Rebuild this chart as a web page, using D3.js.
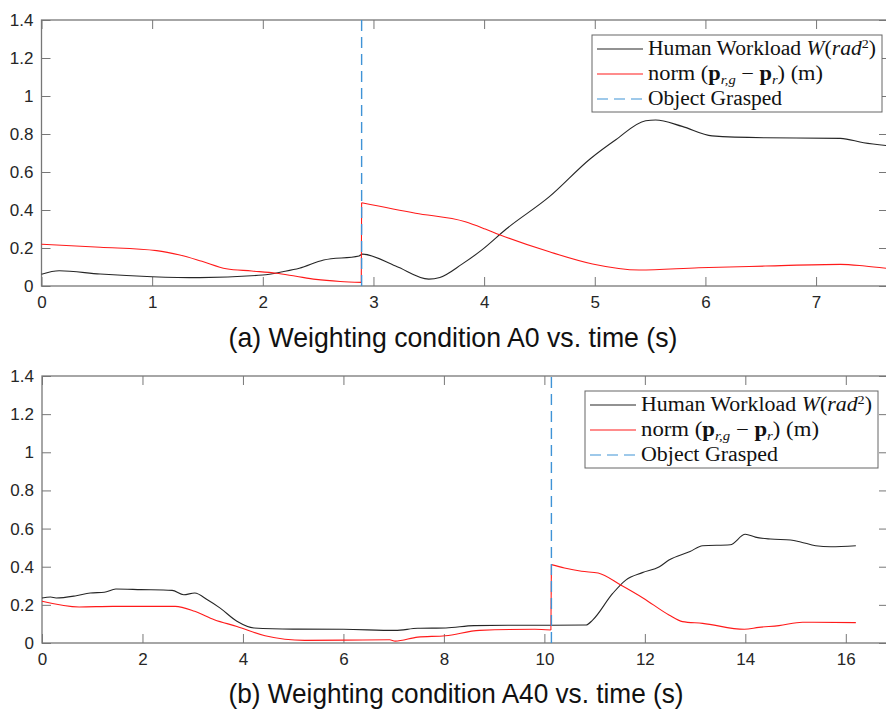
<!DOCTYPE html>
<html>
<head>
<meta charset="utf-8">
<script src="https://cdn.jsdelivr.net/npm/d3@7"></script>
<style>
body{margin:0;background:#fff;}
.tick text{font-family:"Liberation Sans",Arial,sans-serif;font-size:17px;fill:#262626;}
.tick line{stroke:#777;stroke-width:1;}
</style>
</head>
<body>
<script>
// ---- panel (a): condition A0 ----
var a0WorkT = [0, 0.16, 0.53, 1.0, 1.43, 2.0, 2.18, 2.33, 2.55, 2.87, 2.9, 3.2, 3.5, 3.6, 3.8, 3.98, 4.2, 4.59, 4.96, 5.19, 5.46, 5.55, 5.79, 6.06, 6.54, 7.22, 7.43, 7.65];
var a0WorkV = [0.062, 0.08, 0.063, 0.049, 0.044, 0.058, 0.075, 0.093, 0.137, 0.158, 0.168, 0.105, 0.036, 0.045, 0.115, 0.19, 0.30, 0.47, 0.67, 0.77, 0.87, 0.874, 0.84, 0.79, 0.78, 0.777, 0.754, 0.738];
var a0NormPreT = [0, 0.53, 1.04, 1.25, 1.45, 1.67, 1.9, 2.12, 2.3, 2.48, 2.7, 2.89];
var a0NormPreV = [0.22, 0.204, 0.186, 0.163, 0.13, 0.091, 0.079, 0.067, 0.051, 0.035, 0.024, 0.019];
var a0NormPostT = [2.893, 3.38, 3.83, 4.01, 4.14, 4.59, 4.98, 5.4, 5.94, 6.54, 7.22, 7.44, 7.65];
var a0NormPostV = [0.438, 0.383, 0.338, 0.30, 0.27, 0.18, 0.116, 0.084, 0.096, 0.105, 0.114, 0.105, 0.092];
var a0Grasp = 2.893;
var a0XTicks = [0, 1, 2, 3, 4, 5, 6, 7];

// ---- panel (b): condition A40 ----
var a40WorkT = [0, 0.17, 0.28, 0.68, 0.96, 1.24, 1.47, 1.97, 2.59, 2.82, 3.04, 3.3, 3.54, 3.88, 4.22, 5.0, 6.0, 7.03, 7.48, 8.04, 8.6, 9.27, 10.13, 10.83, 10.96, 11.36, 11.62, 11.95, 12.29, 12.48, 12.9, 13.15, 13.7, 14.0, 14.2, 14.5, 14.9, 15.1, 15.4, 15.7, 16.2];
var a40WorkV = [0.236, 0.241, 0.236, 0.248, 0.262, 0.266, 0.283, 0.28, 0.276, 0.253, 0.262, 0.225, 0.184, 0.114, 0.079, 0.073, 0.072, 0.066, 0.077, 0.079, 0.091, 0.093, 0.093, 0.094, 0.12, 0.26, 0.33, 0.369, 0.40, 0.435, 0.48, 0.51, 0.515, 0.57, 0.555, 0.545, 0.54, 0.53, 0.51, 0.505, 0.51];
var a40NormPreT = [0, 0.74, 1.41, 2.65, 3.04, 3.43, 3.88, 4.44, 5.23, 6.0, 6.92, 7.03, 7.48, 8.03, 8.71, 9.81, 10.13];
var a40NormPreV = [0.219, 0.189, 0.192, 0.192, 0.166, 0.122, 0.087, 0.038, 0.014, 0.015, 0.017, 0.01, 0.031, 0.038, 0.066, 0.072, 0.068];
var a40NormPostT = [10.14, 10.4, 10.74, 11.07, 11.52, 11.97, 12.48, 12.75, 13.15, 13.98, 14.27, 14.67, 15.14, 16.2];
var a40NormPostV = [0.411, 0.393, 0.376, 0.367, 0.304, 0.235, 0.147, 0.112, 0.103, 0.072, 0.082, 0.091, 0.109, 0.107];
var a40Grasp = 10.14;
var a40XTicks = [0, 2, 4, 6, 8, 10, 12, 14, 16];

var yTicks = [0, 0.2, 0.4, 0.6, 0.8, 1, 1.2, 1.4];
var captions = ["(a) Weighting condition A0 vs. time (s)", "(b) Weighting condition A40 vs. time (s)"];

var svg = d3.select("body").append("svg")
  .attr("width", 886)
  .attr("height", 709);

function zip(ts, vs) { return ts.map(function(t, i) { return [t, vs[i]]; }); }

var graspBlue = "#3f93d6";

function drawPanel(p, idx) {
  var x = d3.scaleLinear().domain([0, p.xMax]).range([p.left, p.right]);
  var y = d3.scaleLinear().domain([0, 1.4]).range([p.bottom, p.top]);
  var g = svg.append("g");

  // axes, ticks pointing inward
  g.append("g").attr("transform", `translate(0,${p.bottom})`)
    .call(d3.axisBottom(x).tickValues(p.xTicks).tickSizeInner(-9).tickSizeOuter(0).tickPadding(10).tickFormat(d3.format("d")));
  g.append("g").attr("transform", `translate(0,${p.top})`)
    .call(d3.axisTop(x).tickValues(p.xTicks).tickSizeInner(-9).tickSizeOuter(0).tickFormat(""));
  g.append("g").attr("transform", `translate(${p.left},0)`)
    .call(d3.axisLeft(y).tickValues(yTicks).tickSizeInner(-9).tickSizeOuter(0).tickPadding(8)
      .tickFormat(function(d) { return String(+d.toFixed(1)); }));
  g.append("g").attr("transform", `translate(${p.right},0)`)
    .call(d3.axisRight(y).tickValues(yTicks).tickSizeInner(-9).tickSizeOuter(0).tickFormat(""));
  g.selectAll(".domain").remove();

  g.append("rect")
    .attr("x", p.left).attr("y", p.top)
    .attr("width", p.right - p.left).attr("height", p.bottom - p.top)
    .attr("fill", "none").attr("stroke", "#777").attr("stroke-width", 1.3);

  var line = d3.line().x(function(d) { return x(d[0]); }).y(function(d) { return y(d[1]); })
    .curve(d3.curveMonotoneX);
  var straight = d3.line().x(function(d) { return x(d[0]); }).y(function(d) { return y(d[1]); });

  var pre = zip(p.preT, p.preV), post = zip(p.postT, p.postV);
  g.append("path").attr("d", line(zip(p.workT, p.workV)))
    .attr("fill", "none").attr("stroke", "#262626").attr("stroke-width", 1.1);
  g.append("path").attr("d", line(pre))
    .attr("fill", "none").attr("stroke", "#ff1a1a").attr("stroke-width", 1.1);
  g.append("path").attr("d", straight([pre[pre.length - 1], post[0]]))
    .attr("fill", "none").attr("stroke", "#ff1a1a").attr("stroke-width", 1.1);
  g.append("path").attr("d", line(post))
    .attr("fill", "none").attr("stroke", "#ff1a1a").attr("stroke-width", 1.1);

  // object grasped marker
  g.append("path").attr("d", straight([[p.grasp, 0], [p.grasp, 1.4]]))
    .attr("fill", "none").attr("stroke", graspBlue).attr("stroke-width", 1.4)
    .attr("stroke-dasharray", "11,6");

  // legend
  var lg = g.append("g");
  lg.append("rect").attr("x", p.lx).attr("y", p.ly).attr("width", p.lw).attr("height", p.lh)
    .attr("fill", "#fff").attr("stroke", "#666").attr("stroke-width", 1);
  var rowY = [p.ly + 14, p.ly + 39, p.ly + 64];
  var legStroke = ["#262626", "#ff1a1a", graspBlue];
  var legDash = [null, null, "11,6"];
  var legLen = p.legLen;
  legStroke.forEach(function(c, i) {
    lg.append("line").attr("x1", p.lx + 5).attr("x2", p.lx + 51)
      .attr("y1", rowY[i]).attr("y2", rowY[i])
      .attr("stroke", c).attr("stroke-width", 1.2).attr("stroke-dasharray", legDash[i]);
    var t = lg.append("text").attr("x", p.lx + 56).attr("y", rowY[i] + 6)
      .attr("font-family", "'Liberation Serif','DejaVu Serif',serif").attr("font-size", 20)
      .attr("fill", "#111")
      .attr("textLength", legLen[i]).attr("lengthAdjust", "spacingAndGlyphs");
    legendRows[i].forEach(function(s) {
      var ts = t.append("tspan").text(s.t);
      if (s.it) ts.attr("font-style", "italic");
      if (s.b) ts.attr("font-weight", "bold");
      if (s.dy) ts.attr("dy", s.dy);
      if (s.fs) ts.attr("font-size", s.fs);
    });
  });

  svg.append("text")
    .attr("x", p.capX).attr("y", p.capY)
    .attr("text-anchor", "middle")
    .attr("font-family", "'Liberation Sans','DejaVu Sans',sans-serif")
    .attr("font-size", 28).attr("fill", "#111")
    .attr("textLength", p.capW).attr("lengthAdjust", "spacingAndGlyphs")
    .text(captions[idx]);
}

var legendRows = [
  [{t: "Human Workload "}, {t: "W", it: true}, {t: "("}, {t: "rad", it: true}, {t: "2", dy: -7, fs: 13}, {t: ")", dy: 7}],
  [{t: "norm ("}, {t: "p", b: true}, {t: "r,g", it: true, dy: 4, fs: 13}, {t: " \u2212 ", dy: -4}, {t: "p", b: true}, {t: "r", it: true, dy: 4, fs: 13}, {t: ") (m)", dy: -4}],
  [{t: "Object Grasped"}]
];

drawPanel({
  left: 41.5, right: 888, top: 20, bottom: 286, xMax: 7.65, xTicks: a0XTicks,
  workT: a0WorkT, workV: a0WorkV, preT: a0NormPreT, preV: a0NormPreV,
  postT: a0NormPostT, postV: a0NormPostV, grasp: a0Grasp,
  lx: 592, ly: 35, lw: 290, lh: 77, legLen: [228, 175, 134],
  capX: 453, capY: 347, capW: 449
}, 0);

drawPanel({
  left: 42, right: 888, top: 376, bottom: 643, xMax: 16.84, xTicks: a40XTicks,
  workT: a40WorkT, workV: a40WorkV, preT: a40NormPreT, preV: a40NormPreV,
  postT: a40NormPostT, postV: a40NormPostV, grasp: a40Grasp,
  lx: 585, ly: 391, lw: 293, lh: 77, legLen: [231, 178, 137],
  capX: 456, capY: 703, capW: 455
}, 1);
</script>
</body>
</html>
